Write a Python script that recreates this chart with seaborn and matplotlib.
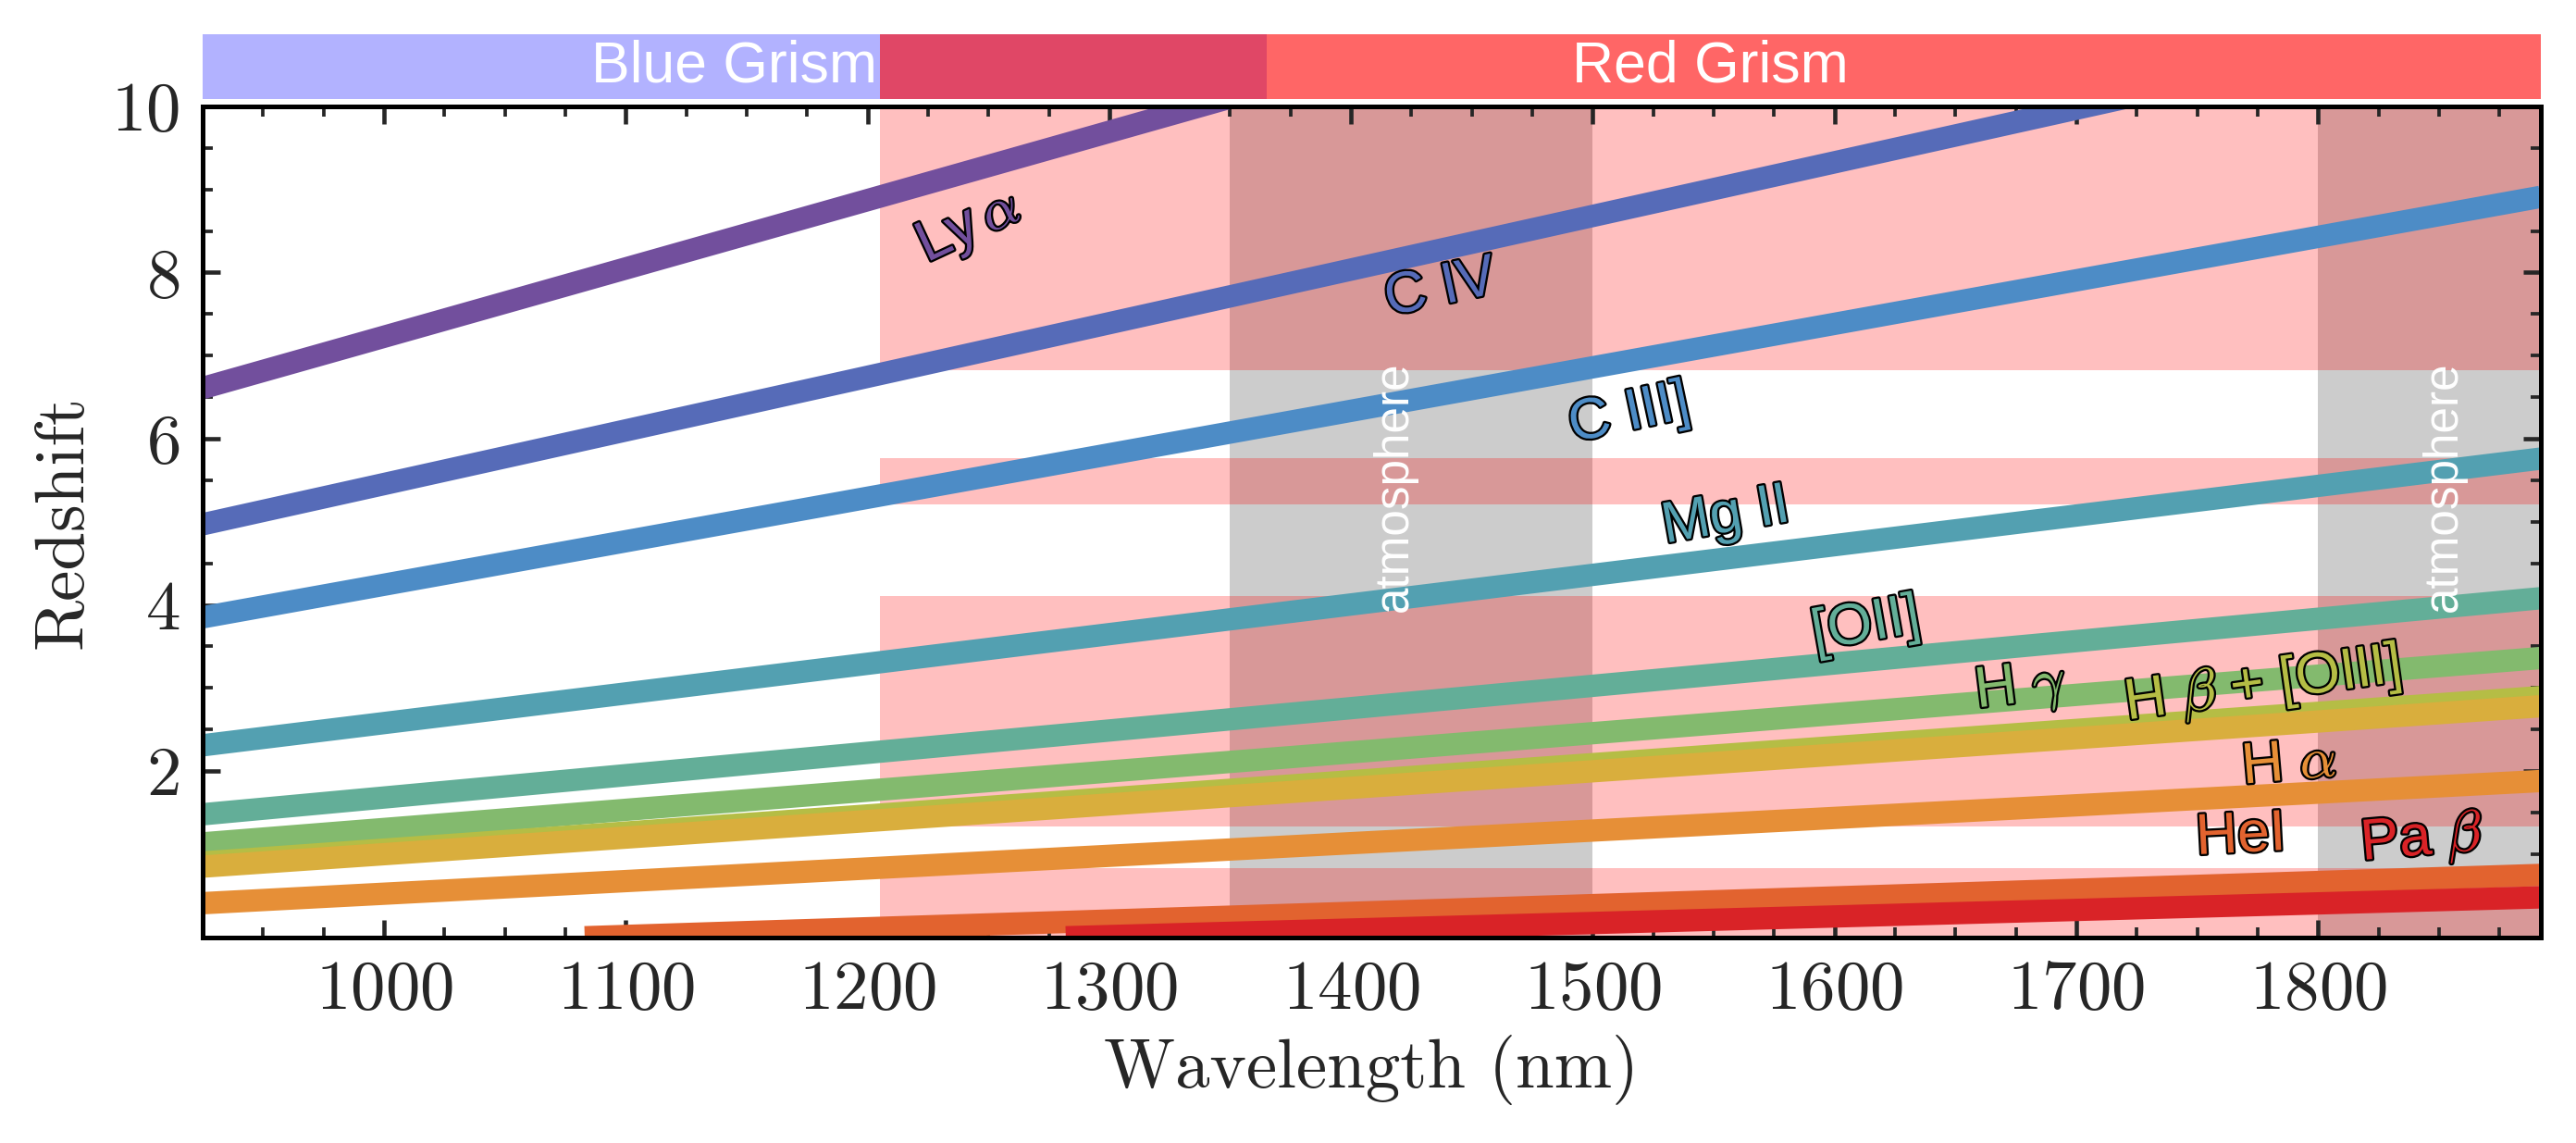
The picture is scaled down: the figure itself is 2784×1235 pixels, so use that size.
import numpy as np
import pandas as pd
import seaborn as sns
import matplotlib
matplotlib.use("Agg")
import matplotlib.pyplot as plt
from matplotlib import patheffects as pe
from matplotlib.ticker import MultipleLocator

# emission lines: redshift read at the left/right ends of each band
line_names = ["Lya", "CIV", "CIII]", "MgII", "[OII]", "Hg", "Hb", "[OIII]", "Ha", "HeI", "Pab"]
wl_start = [925, 925, 925, 925, 925, 925, 925, 925, 925, 1083, 1282]
wl_end = [1892, 1892, 1892, 1892, 1892, 1892, 1892, 1892, 1892, 1892, 1892]
z_start = [6.61, 4.97, 3.85, 2.31, 1.48, 1.13, 0.90, 0.85, 0.41, 0.0, 0.0]
z_end = [14.56, 11.21, 8.91, 5.76, 4.08, 3.36, 2.89, 2.78, 1.88, 0.75, 0.48]
line_colors = ["#724f9d", "#566bb8", "#4d8cc6", "#53a0b1", "#63ae98", "#83ba6e",
               "#b5bd45", "#d9ae3d", "#e68f37", "#e2632f", "#d92327"]

# labels next to the bands
label_text = [r"Ly$\,\alpha$", "C IV", "C III]", "Mg II", "[OII]", r"H $\gamma$",
              r"H $\beta$ + [OIII]", r"H $\alpha$", "HeI", r"Pa $\beta$"]
label_x = [1242, 1437, 1515, 1555, 1613, 1677, 1777, 1788, 1768, 1843]
label_y = [8.54, 7.80, 6.29, 5.06, 3.75, 2.99, 3.03, 2.08, 1.21, 1.17]
label_rot = [25, 12, 12, 10, 10, 7, 8, 5, 3, 5]
label_colors = ["#724f9d", "#566bb8", "#4d8cc6", "#53a0b1", "#63ae98", "#83ba6e",
                "#b5bd45", "#e68f37", "#e2632f", "#d92327"]

# red grism redshift windows and atmospheric bands
red_lo, red_hi = 1205, 1892
band_z_lo = [6.82, 5.21, 1.33, 0.0]
band_z_hi = [10.0, 5.77, 4.11, 0.83]
atm_lo = [1350, 1800]
atm_hi = [1500, 1892]
atm_text_x = [1418, 1852]

# grism coverage
blue_range = (925, 1365)
red_range = (1205, 1892)

sns.set_theme(style="ticks")
plt.rcParams.update({
    "font.family": "serif",
    "font.serif": ["cmr10"],
    "mathtext.fontset": "cm",
    "axes.formatter.use_mathtext": True,
    "axes.unicode_minus": False,
    "xtick.direction": "in",
    "ytick.direction": "in",
    "xtick.top": True,
    "ytick.right": True,
    "axes.linewidth": 1.2,
    "xtick.major.width": 1.1,
    "ytick.major.width": 1.1,
    "xtick.minor.width": 0.9,
    "ytick.minor.width": 0.9,
    "xtick.major.size": 4.6,
    "ytick.major.size": 4.6,
    "xtick.minor.size": 2.6,
    "ytick.minor.size": 2.6,
    "axes.edgecolor": "black",
})

fig = plt.figure(figsize=(9.28, 4.1167), dpi=300)
ax = fig.add_axes([0.0787, 0.180, 0.9075, 0.727])
ax_top = fig.add_axes([0.0787, 0.913, 0.9075, 0.057])

xlim = (925, 1892)
sans = ["Liberation Sans", "DejaVu Sans"]

# atmosphere first, then pink windows on top
for lo, hi in zip(atm_lo, atm_hi):
    ax.axvspan(lo, hi, color="black", alpha=0.2, lw=0, zorder=0)
for lo, hi in zip(band_z_lo, band_z_hi):
    ax.fill_between([red_lo, red_hi], lo, hi, color="red", alpha=0.25, lw=0, zorder=0.5)

rows = []
for n, a, b, za, zb in zip(line_names, wl_start, wl_end, z_start, z_end):
    rows.append({"line": n, "wl": a, "z": za})
    rows.append({"line": n, "wl": b, "z": zb})
df = pd.DataFrame(rows)

sns.lineplot(data=df, x="wl", y="z", hue="line", hue_order=line_names,
             palette=dict(zip(line_names, line_colors)), linewidth=5.8,
             estimator=None, sort=False, legend=False, ax=ax,
             solid_capstyle="butt", zorder=2)

for x in atm_text_x:
    ax.text(x, 3.92, "atmosphere", rotation=90, ha="center", va="bottom",
            color="white", fontsize=12.3, family=sans, zorder=3)

for t, x, y, r, c in zip(label_text, label_x, label_y, label_rot, label_colors):
    ax.text(x, y, t, rotation=r, ha="center", va="center", color=c, fontsize=15,
            family=sans, zorder=4, rotation_mode="anchor",
            path_effects=[pe.withStroke(linewidth=1.1, foreground="black")])

ax.set_xlim(*xlim)
ax.set_ylim(0, 10)
ax.set_yticks([2, 4, 6, 8, 10])
ax.xaxis.set_major_locator(MultipleLocator(100))
ax.xaxis.set_minor_locator(MultipleLocator(25))
ax.yaxis.set_minor_locator(MultipleLocator(0.5))
ax.tick_params(which="both", top=True, right=True, direction="in")
ax.tick_params(labelsize=18, pad=6)
ax.set_xlabel("Wavelength (nm)", fontsize=18, labelpad=3)
ax.set_ylabel("Redshift", fontsize=18)

# grism bar on top
ax_top.axvspan(*blue_range, color="blue", alpha=0.3, lw=0)
ax_top.axvspan(*red_range, color="red", alpha=0.6, lw=0)
ax_top.text(sum(blue_range) / 2, 0.5, "Blue Grism", ha="center", va="center", color="white",
            fontsize=15, family=sans)
ax_top.text(sum(red_range) / 2, 0.5, "Red Grism", ha="center", va="center", color="white",
            fontsize=15, family=sans)
ax_top.set_xlim(*xlim)
ax_top.set_ylim(0, 1)
ax_top.axis("off")

fig.savefig("out.png", dpi=300)
